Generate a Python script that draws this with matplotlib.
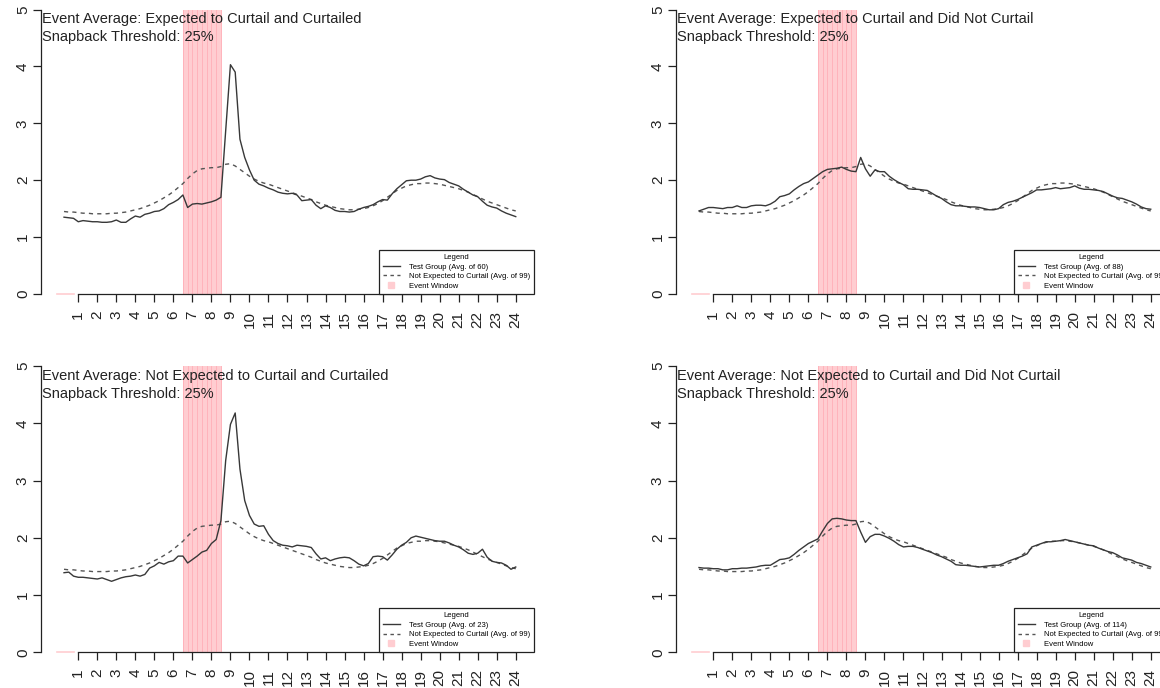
import matplotlib
matplotlib.use('Agg')
import matplotlib.pyplot as plt
from matplotlib.lines import Line2D
import numpy as np

plt.rcParams['font.family'] = ['Liberation Sans', 'DejaVu Sans']

# 15-minute intervals, hour 0.25 .. 24
hours = np.arange(1, 97) * 0.25
hour_ticks = list(range(1, 25))

# control group: Not Expected to Curtail (Avg. of 99)
baseline = [1.45, 1.44, 1.44, 1.43, 1.42, 1.42, 1.41, 1.41, 1.41, 1.41, 1.42, 1.42,
            1.43, 1.44, 1.46, 1.48, 1.50, 1.53, 1.56, 1.60, 1.64, 1.69, 1.74, 1.80,
            1.87, 1.94, 2.03, 2.11, 2.17, 2.20, 2.21, 2.22, 2.22, 2.24, 2.28, 2.29,
            2.25, 2.19, 2.13, 2.07, 2.02, 1.98, 1.95, 1.93, 1.90, 1.87, 1.84, 1.81,
            1.78, 1.75, 1.72, 1.69, 1.66, 1.62, 1.59, 1.56, 1.54, 1.52, 1.50, 1.49,
            1.48, 1.48, 1.49, 1.50, 1.52, 1.55, 1.59, 1.64, 1.70, 1.76, 1.82, 1.86,
            1.90, 1.92, 1.94, 1.94, 1.95, 1.95, 1.94, 1.93, 1.91, 1.89, 1.87, 1.85,
            1.82, 1.79, 1.75, 1.71, 1.67, 1.63, 1.60, 1.57, 1.54, 1.51, 1.48, 1.46]

# test groups
exp_curtailed = [1.35, 1.34, 1.33, 1.27, 1.29, 1.28, 1.27, 1.27, 1.26, 1.26, 1.27, 1.30,
                 1.26, 1.26, 1.32, 1.37, 1.35, 1.40, 1.42, 1.45, 1.46, 1.50, 1.57, 1.61,
                 1.66, 1.74, 1.52, 1.58, 1.59, 1.58, 1.60, 1.62, 1.65, 1.70, 2.87, 4.03,
                 3.90, 2.72, 2.40, 2.18, 2.00, 1.93, 1.90, 1.86, 1.83, 1.79, 1.77, 1.76,
                 1.77, 1.74, 1.64, 1.65, 1.66, 1.56, 1.50, 1.55, 1.52, 1.47, 1.45, 1.45,
                 1.44, 1.45, 1.49, 1.52, 1.54, 1.57, 1.62, 1.66, 1.65, 1.76, 1.85, 1.92,
                 1.99, 2.00, 2.00, 2.02, 2.06, 2.08, 2.04, 2.02, 2.01, 1.96, 1.93, 1.90,
                 1.84, 1.79, 1.74, 1.71, 1.63, 1.56, 1.53, 1.51, 1.46, 1.42, 1.39, 1.36]

exp_not_curtailed = [1.46, 1.49, 1.52, 1.52, 1.51, 1.50, 1.52, 1.52, 1.55, 1.52, 1.52, 1.55,
                     1.56, 1.56, 1.55, 1.58, 1.63, 1.71, 1.73, 1.76, 1.83, 1.89, 1.94, 1.97,
                     2.03, 2.09, 2.15, 2.19, 2.20, 2.21, 2.23, 2.19, 2.16, 2.15, 2.40, 2.20,
                     2.07, 2.18, 2.15, 2.15, 2.07, 2.01, 1.96, 1.92, 1.85, 1.84, 1.84, 1.83,
                     1.82, 1.77, 1.72, 1.68, 1.62, 1.57, 1.55, 1.55, 1.54, 1.53, 1.53, 1.52,
                     1.50, 1.48, 1.48, 1.50, 1.57, 1.61, 1.63, 1.66, 1.70, 1.74, 1.78, 1.83,
                     1.83, 1.84, 1.85, 1.87, 1.85, 1.86, 1.87, 1.90, 1.86, 1.84, 1.84, 1.83,
                     1.82, 1.80, 1.76, 1.72, 1.69, 1.68, 1.65, 1.62, 1.58, 1.53, 1.50, 1.49]

notexp_curtailed = [1.39, 1.40, 1.33, 1.31, 1.31, 1.30, 1.29, 1.28, 1.30, 1.27, 1.24, 1.27,
                    1.30, 1.32, 1.33, 1.35, 1.33, 1.36, 1.47, 1.51, 1.57, 1.54, 1.58, 1.60,
                    1.68, 1.68, 1.56, 1.62, 1.68, 1.75, 1.78, 1.90, 1.97, 2.30, 3.35, 3.98,
                    4.18, 3.20, 2.65, 2.39, 2.24, 2.20, 2.21, 2.06, 1.95, 1.90, 1.87, 1.86,
                    1.84, 1.87, 1.86, 1.85, 1.83, 1.72, 1.63, 1.65, 1.60, 1.63, 1.65, 1.66,
                    1.65, 1.60, 1.54, 1.51, 1.55, 1.67, 1.68, 1.67, 1.61, 1.70, 1.80, 1.87,
                    1.92, 2.00, 2.03, 2.01, 1.99, 1.97, 1.95, 1.94, 1.94, 1.91, 1.87, 1.84,
                    1.79, 1.73, 1.71, 1.73, 1.80, 1.66, 1.59, 1.57, 1.56, 1.52, 1.45, 1.49]

notexp_not_curtailed = [1.48, 1.47, 1.47, 1.46, 1.46, 1.44, 1.44, 1.46, 1.46, 1.47, 1.47, 1.48,
                        1.49, 1.51, 1.52, 1.52, 1.57, 1.62, 1.63, 1.65, 1.71, 1.78, 1.84, 1.90,
                        1.94, 1.98, 2.12, 2.25, 2.33, 2.34, 2.33, 2.31, 2.30, 2.30, 2.10, 1.92,
                        2.02, 2.06, 2.06, 2.03, 1.99, 1.94, 1.88, 1.84, 1.85, 1.85, 1.83, 1.80,
                        1.77, 1.74, 1.70, 1.67, 1.63, 1.59, 1.53, 1.52, 1.52, 1.51, 1.50, 1.49,
                        1.50, 1.51, 1.52, 1.52, 1.55, 1.59, 1.62, 1.65, 1.68, 1.72, 1.84, 1.87,
                        1.90, 1.93, 1.93, 1.94, 1.95, 1.97, 1.95, 1.93, 1.91, 1.89, 1.87, 1.86,
                        1.82, 1.79, 1.76, 1.74, 1.70, 1.65, 1.63, 1.61, 1.57, 1.55, 1.52, 1.49]

titles = ['Event Average: Expected to Curtail and Curtailed',
          'Event Average: Expected to Curtail and Did Not Curtail',
          'Event Average: Not Expected to Curtail and Curtailed',
          'Event Average: Not Expected to Curtail and Did Not Curtail']
test_series = [exp_curtailed, exp_not_curtailed, notexp_curtailed, notexp_not_curtailed]
test_counts = [60, 88, 23, 114]
baseline_count = 99
event_start, event_end = 6.5, 8.5
threshold = '25%'

W, H = 1160, 688
fig = plt.figure(figsize=(W / 100, H / 100), dpi=100)

# pixel boxes: left, top (y=5), right, bottom (y=0)
boxes = [(41, 9.5, 534, 294), (676, 9.5, 1169, 294),
         (41, 366, 534, 652.3), (676, 366, 1169, 652.3)]

pink = '#ffcdd1'
stripe = '#ffb3bb'
solid_col = '#383838'
dash_col = '#555555'

for box, title, test, n in zip(boxes, titles, test_series, test_counts):
    l, t, r, b = box
    ax = fig.add_axes([l / W, 1 - b / H, (r - l) / W, (b - t) / H])

    # event window
    ax.axvspan(event_start, event_end, color=pink, lw=0, zorder=0)
    for xv in np.arange(event_start, event_end + 0.01, 0.25):
        ax.axvline(xv, color=stripe, lw=0.7, zorder=0.5)
    ax.plot([-0.1, 0.8], [0, 0], color=pink, lw=1.2, zorder=0.5, clip_on=False)

    ax.plot(hours, baseline, color=dash_col, lw=1.0, ls=(0, (3, 3)), zorder=2)
    ax.plot(hours, test, color=solid_col, lw=1.0, zorder=3)

    ax.set_xlim(-0.96, 24.96)
    ax.set_ylim(0, 5)
    ax.spines[['top', 'right']].set_visible(False)
    ax.spines['bottom'].set_bounds(1, 24)
    for s in ['left', 'bottom']:
        ax.spines[s].set_color('#222222')
        ax.spines[s].set_linewidth(0.9)
    ax.set_xticks(hour_ticks)
    ax.set_xticklabels([str(h) for h in hour_ticks], rotation=90, va='top', ha='center')
    ax.set_yticks(range(6))
    ax.set_yticklabels([str(v) for v in range(6)], rotation=90, va='center')
    ax.tick_params(direction='out', length=6, width=0.9, color='#222222',
                   labelsize=11, labelcolor='#222222')
    ax.tick_params(axis='x', pad=6)
    ax.tick_params(axis='y', pad=2)

    ax.text(0.003, 0.9525, title, transform=ax.transAxes, fontsize=10.5,
            color='#222222', va='baseline', ha='left', zorder=5)
    ax.text(0.003, 0.889, 'Snapback Threshold: ' + threshold, transform=ax.transAxes,
            fontsize=10.5, color='#222222', va='baseline', ha='left', zorder=5)

    handles = [Line2D([], [], color=solid_col, lw=1.0),
               Line2D([], [], color=dash_col, lw=1.0, ls=(0, (2.5, 2.5))),
               Line2D([], [], color=pink, marker='s', ls='None', markersize=5)]
    labels = ['Test Group (Avg. of %d)' % n,
              'Not Expected to Curtail (Avg. of %d)' % baseline_count,
              'Event Window']
    leg = ax.legend(handles, labels, title='Legend', loc='lower right',
                    bbox_to_anchor=(1.0, 0.0), borderaxespad=0, fontsize=5.5,
                    title_fontsize=5.5, frameon=True, fancybox=False, handlelength=2.2,
                    handletextpad=1.2, labelspacing=0.3, borderpad=0.55,
                    framealpha=1)
    leg.get_frame().set_edgecolor('#222222')
    leg.get_frame().set_linewidth(0.9)

fig.savefig('out.png', dpi=100)
